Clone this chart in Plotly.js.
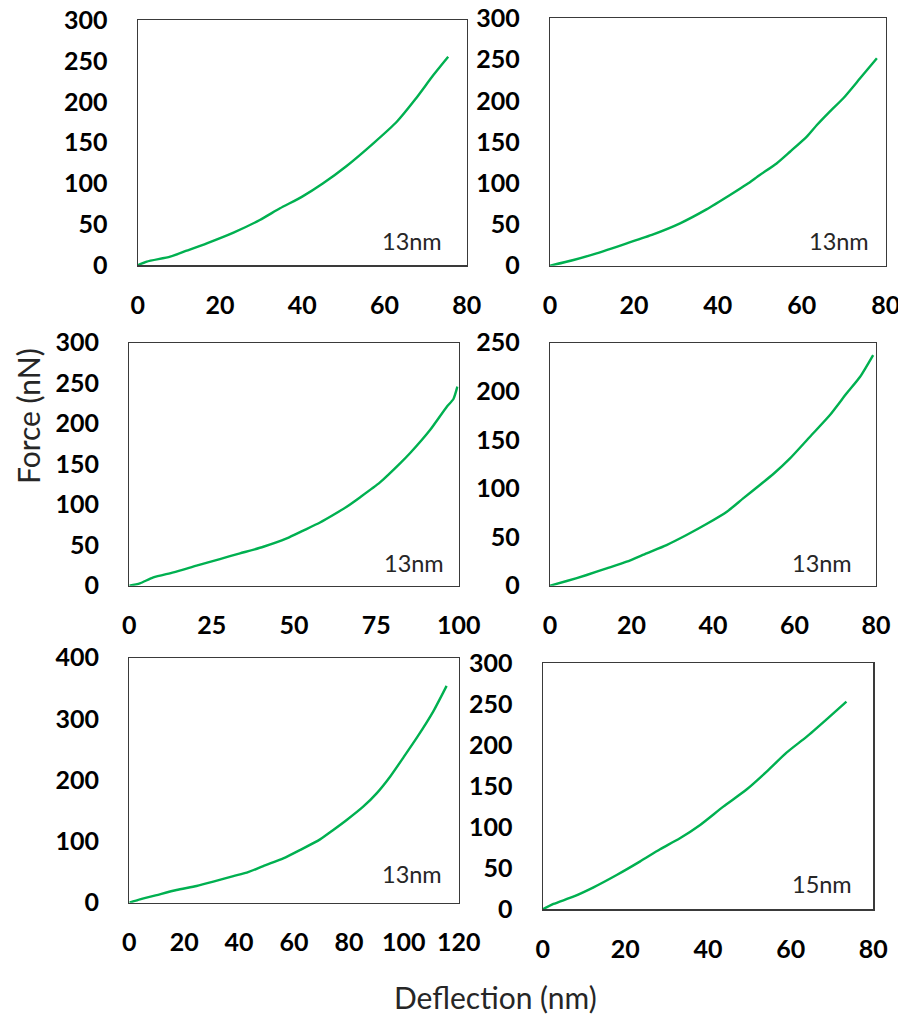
<!DOCTYPE html>
<html><head><meta charset="utf-8">
<script src="https://cdn.plot.ly/plotly-3.0.1.min.js"></script>
<style>html,body{margin:0;padding:0;background:#fff;overflow:hidden}#chart{width:898px;height:1019px}</style>
</head><body><div id="chart"></div>
<script>
// ---- data (Deflection nm, Force nN) ----
const deflection1 = [0, 2.2, 7.9, 11.9, 16.8, 23.3, 29.7, 34.6, 40.0, 45.0, 50.8, 57.3, 63.0, 67.5, 71.9, 75.5];
const force1      = [0, 4.5, 10.6, 17.9, 26.9, 40.0, 55.4, 69.7, 84.0, 100.0, 121.5, 149.2, 175.6, 203.0, 232.7, 255.1];

const deflection2 = [0, 5.6, 11.1, 18.3, 24.6, 31.0, 37.3, 42.9, 46.9, 50.0, 54.0, 57.2, 61.2, 63.6, 66.5, 69.9, 73.9, 77.9];
const force2      = [0, 6.9, 15.0, 27.1, 38.0, 51.4, 68.3, 85.7, 98.7, 110.0, 124.0, 138.2, 156.5, 170.6, 186.0, 203.0, 227.2, 251.5];

const deflection3 = [0, 3.2, 7.3, 13.4, 20.4, 27.5, 33.6, 40.7, 47.8, 52.8, 57.9, 62.0, 66.0, 70.0, 76.1, 82.2, 85.2, 91.3, 96.4, 98.4, 99.6];
const force3      = [0, 2.9, 10.3, 16.5, 24.7, 32.9, 39.9, 48.1, 58.4, 68.0, 78.0, 87.5, 97.5, 109.0, 127.5, 151.0, 163.5, 192.2, 221.0, 230.5, 245.7];

const deflection4 = [0, 4.1, 9.0, 13.9, 18.8, 23.7, 28.6, 33.5, 38.4, 43.4, 47.4, 51.5, 54.8, 58.9, 63.8, 68.7, 72.8, 76.1, 79.3];
const force4      = [0, 4.8, 11.0, 17.8, 24.7, 33.3, 41.8, 52.1, 63.4, 76.1, 89.8, 103.6, 114.9, 131.0, 153.3, 175.6, 197.9, 215.0, 237.3];

const deflection5 = [0, 3.9, 10.0, 17.2, 24.5, 30.6, 37.9, 42.8, 48.8, 56.1, 62.2, 69.5, 74.3, 79.2, 85.2, 90.1, 95.0, 100.0, 105.0, 110.7, 115.6];
const force5      = [0, 5.4, 12.5, 20.7, 27.2, 34.3, 43.5, 49.0, 59.9, 72.4, 86.0, 103.4, 118.7, 135.0, 156.7, 178.5, 205.7, 238.0, 271.0, 312.0, 354.0];

const deflection6 = [0, 2.6, 7.4, 12.3, 17.9, 23.5, 28.4, 33.2, 38.1, 43.7, 49.4, 54.2, 59.0, 63.9, 68.7, 73.5];
const force6      = [0, 6.5, 15.4, 26.8, 41.8, 58.1, 73.1, 86.5, 102.7, 125.0, 146.2, 167.7, 190.8, 210.3, 231.4, 253.0];

const panelLabels = ["13nm", "13nm", "13nm", "13nm", "13nm", "15nm"];
const xRanges = [[0, 80], [0, 80], [0, 100], [0, 80], [0, 120], [0, 80]];
const yRanges = [[0, 300], [0, 300], [0, 300], [0, 250], [0, 400], [0, 300]];
const xDtick = [20, 20, 25, 20, 20, 20];
const yDtick = [50, 50, 50, 50, 100, 50];
const xTitle = "Deflection (nm)";
const yTitle = "Force (nN)";

// ---- layout geometry (pixels) ----
const W = 898, H = 1019;
const boxes = [ // [left, right, top, bottom]
  [137.7, 466.7, 20.0, 265.3],
  [550.0, 885.7, 18.3, 265.7],
  [129.3, 458.7, 342.7, 585.7],
  [550.0, 876.0, 342.7, 585.7],
  [129.3, 458.7, 657.7, 902.7],
  [542.7, 873.3, 663.0, 909.3]
];
const labelPos = [[411.7, 240.7], [839, 240.7], [414, 563], [821.7, 563.3], [411.7, 874.3], [821.7, 884]];

const xs = [deflection1, deflection2, deflection3, deflection4, deflection5, deflection6];
const ys = [force1, force2, force3, force4, force5, force6];

const green = '#00B050';
const tickFont = {family: 'Lato, "Open Sans", sans-serif', size: 25, color: '#000', weight: 'bold'};

const data = [];
const layout = {
  width: W, height: H, margin: {l: 0, r: 0, t: 0, b: 0},
  paper_bgcolor: '#fff', plot_bgcolor: '#fff', showlegend: false,
  annotations: []
};
for (let i = 0; i < 6; i++) {
  const n = i === 0 ? '' : String(i + 1);
  data.push({
    type: 'scatter', mode: 'lines', x: xs[i], y: ys[i],
    xaxis: 'x' + n, yaxis: 'y' + n,
    line: {color: green, width: 2.4, shape: 'spline', smoothing: 0.6}, cliponaxis: false, hoverinfo: 'skip'
  });
  const b = boxes[i];
  layout['xaxis' + n] = {
    domain: [b[0] / W, b[1] / W], anchor: 'y' + n,
    range: xRanges[i], dtick: xDtick[i], tick0: 0,
    showgrid: false, zeroline: false, showline: true, mirror: true,
    linecolor: '#3a3a3a', linewidth: 1.2, ticks: '',
    tickfont: tickFont, ticklabelstandoff: 17, ticklabeloverflow: 'allow', fixedrange: true
  };
  layout['yaxis' + n] = {
    domain: [1 - b[3] / H, 1 - b[2] / H], anchor: 'x' + n,
    range: yRanges[i], dtick: yDtick[i], tick0: 0,
    showgrid: false, zeroline: false, showline: true, mirror: true,
    linecolor: '#3a3a3a', linewidth: 1.2, ticks: '',
    tickfont: tickFont, ticklabelstandoff: 24, ticklabeloverflow: 'allow', fixedrange: true
  };
  layout.annotations.push({
    xref: 'paper', yref: 'paper', x: labelPos[i][0] / W, y: 1 - labelPos[i][1] / H,
    xanchor: 'center', yanchor: 'middle', showarrow: false,
    text: panelLabels[i], font: {family: 'Lato, "Open Sans", sans-serif', size: 23.5, color: '#262626'}
  });
}
layout.annotations.push({
  xref: 'paper', yref: 'paper', x: 496 / W, y: 1 - 997 / H,
  xanchor: 'center', yanchor: 'middle', showarrow: false,
  text: xTitle, font: {family: 'Lato, "Open Sans", sans-serif', size: 30, color: '#262626'}
});
layout.annotations.push({
  xref: 'paper', yref: 'paper', x: 28 / W, y: 1 - 416 / H,
  xanchor: 'center', yanchor: 'middle', showarrow: false, textangle: -90,
  text: yTitle, font: {family: 'Lato, "Open Sans", sans-serif', size: 30, color: '#262626'}
});

Plotly.newPlot('chart', data, layout, {staticPlot: true, displayModeBar: false});
</script>
</body></html>
